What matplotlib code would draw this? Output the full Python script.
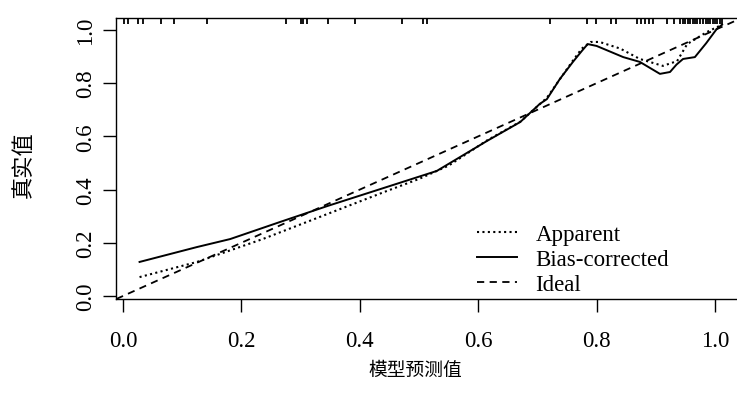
import numpy as np
import matplotlib
matplotlib.use("Agg")
from matplotlib import pyplot as plt

# calibration curves
bc_x = [0.028, 0.125, 0.181, 0.265, 0.345, 0.446, 0.53, 0.615, 0.671, 0.704,
        0.716, 0.738, 0.76, 0.775, 0.785, 0.80, 0.845, 0.873, 0.907, 0.924,
        0.935, 0.946, 0.966, 0.985, 1.003, 1.012]
bc_y = [0.128, 0.184, 0.214, 0.278, 0.338, 0.41, 0.47, 0.583, 0.654, 0.722,
        0.74, 0.816, 0.88, 0.921, 0.947, 0.94, 0.898, 0.88, 0.835, 0.842,
        0.87, 0.891, 0.898, 0.95, 1.004, 1.02]

app_x = [0.028, 0.125, 0.236, 0.345, 0.446, 0.50, 0.55, 0.615, 0.671, 0.716,
         0.76, 0.775, 0.79, 0.805, 0.84, 0.873, 0.912, 0.936, 0.953, 0.986, 1.012]
app_y = [0.071, 0.128, 0.214, 0.308, 0.395, 0.44, 0.49, 0.585, 0.655, 0.745,
         0.885, 0.93, 0.955, 0.955, 0.93, 0.891, 0.865, 0.883, 0.947, 0.992, 1.02]

# predicted values shown as rug along the top
rug_x = [0.002, 0.008, 0.025, 0.034, 0.064, 0.086, 0.142, 0.275, 0.301, 0.304,
         0.311, 0.346, 0.392, 0.471, 0.507, 0.514, 0.721, 0.784, 0.799, 0.824,
         0.833, 0.868, 0.875, 0.882, 0.889, 0.895, 0.919, 0.931, 0.941, 0.946,
         0.95, 0.954, 0.958, 0.962, 0.966, 0.97, 0.975, 0.98, 0.984, 0.988,
         0.992, 0.996, 1.0, 1.004, 1.008, 1.012]

ticks = [0.0, 0.2, 0.4, 0.6, 0.8, 1.0]
tick_labels = ["0.0", "0.2", "0.4", "0.6", "0.8", "1.0"]

plt.rcParams["font.family"] = ["Liberation Serif", "Noto Sans CJK SC"]
cjk = ["Noto Sans CJK SC", "DejaVu Sans"]

fig = plt.figure(figsize=(7.37, 4.06), dpi=100)
ax = fig.add_axes([116 / 737, 106 / 406, 626 / 737, 281 / 406])
ax.set_xlim(-0.0118, 1.0456)
ax.set_ylim(-0.0113, 1.045)

ax.plot([-0.05, 1.1], [-0.05, 1.1], color="black", lw=1.3,
        linestyle=(0, (4, 3)), label="Ideal", zorder=2)
ax.plot(app_x, app_y, color="black", lw=1.5, linestyle=(0, (1, 1.6)),
        label="Apparent", zorder=3)
ax.plot(bc_x, bc_y, color="black", lw=1.4, label="Bias-corrected", zorder=4)

ax.vlines(rug_x, 0.978, 1.0, transform=ax.get_xaxis_transform(),
          color="black", lw=1.3)

ax.set_xticks(ticks)
ax.set_xticklabels(tick_labels)
ax.set_yticks(ticks)
ax.set_yticklabels(tick_labels, rotation=90, va="center")
ax.tick_params(axis="both", direction="out", length=9.5, width=1.0,
               labelsize=16.5)
ax.tick_params(axis="x", pad=13)
ax.tick_params(axis="y", pad=5)
for s in ax.spines.values():
    s.set_linewidth(1.0)

ax.set_xlabel("模型预测值", family=cjk, fontsize=13.5)
ax.xaxis.set_label_coords(0.4776, -0.2135)
ax.set_ylabel("真实值", family=cjk, fontsize=16)
ax.yaxis.set_label_coords(-0.1294, 0.4804)

h, l = ax.get_legend_handles_labels()
order = [1, 2, 0]
ax.legend([h[i] for i in order], [l[i] for i in order], frameon=False,
          loc="upper left", bbox_to_anchor=(477 / 737, 1 - 225 / 406),
          bbox_transform=fig.transFigure, fontsize=16.5, handlelength=1.75,
          handletextpad=0.8, labelspacing=0.18, borderpad=0, borderaxespad=0)

fig.savefig("out.png", dpi=100)
